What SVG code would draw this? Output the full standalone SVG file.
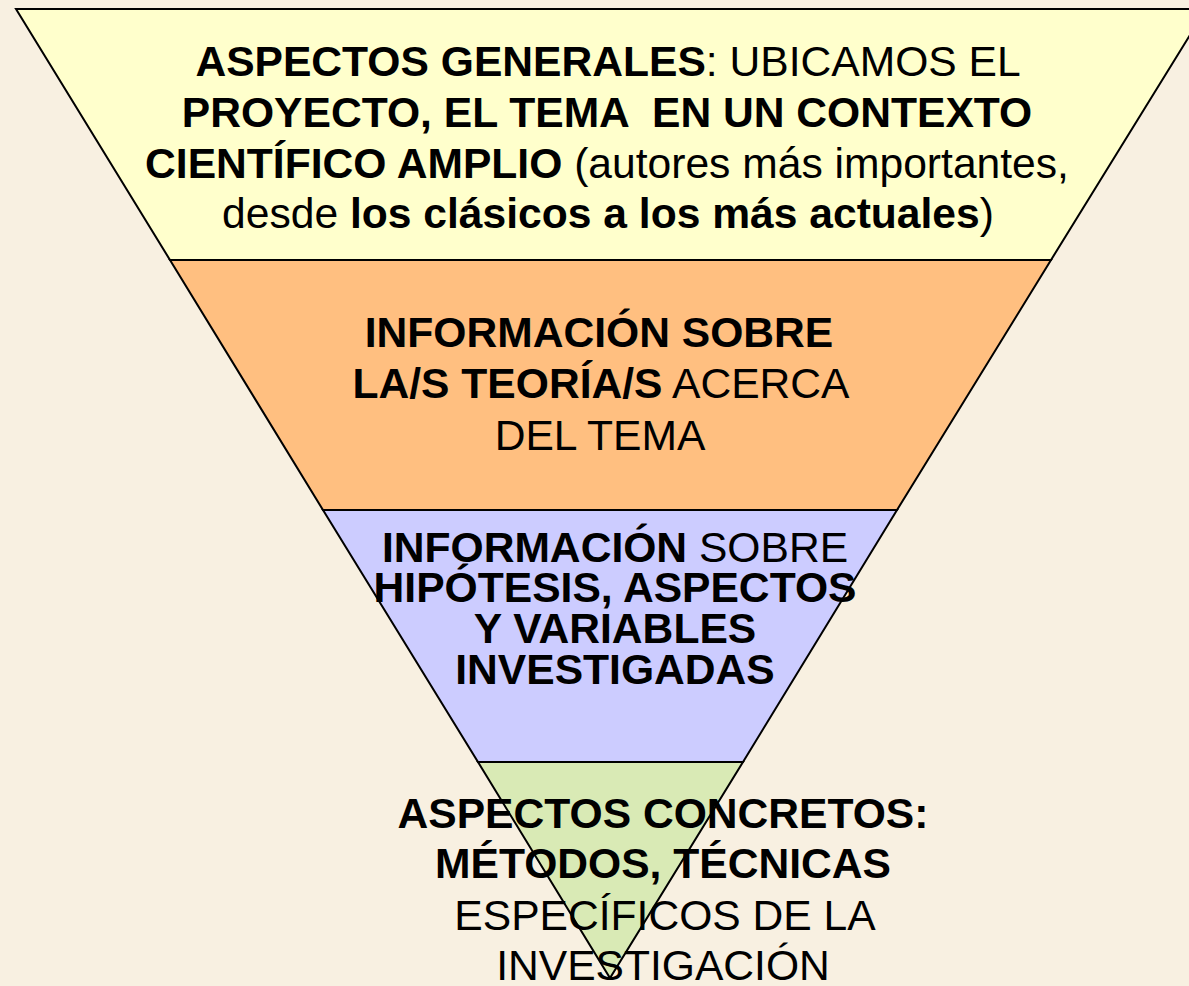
<svg xmlns="http://www.w3.org/2000/svg" width="1189" height="986" viewBox="0 0 1189 986">
  <style>
    .band { stroke: #000; stroke-width: 2; stroke-linejoin: miter; }
    text { font-family: "Liberation Sans", Arial, sans-serif; font-size: 42.6px; fill: #000; text-anchor: middle; white-space: pre; }
    .b { font-weight: bold; }
  </style>
  <rect x="0" y="0" width="1189" height="986" fill="#F8F0E1"/>
  <g id="band-general">
    <polygon class="band" fill="#FFFFCC" points="16,9 1206,9 1051,260 170,260"/>
    <text x="608" y="76"><tspan class="b">ASPECTOS GENERALES</tspan>: UBICAMOS EL</text>
    <text x="607" y="127" class="b">PROYECTO, EL TEMA  EN UN CONTEXTO</text>
    <text x="607" y="178"><tspan class="b">CIENTÍFICO AMPLIO</tspan> (autores más importantes,</text>
    <text x="608" y="228">desde <tspan class="b">los clásicos a los más actuales</tspan>)</text>
  </g>
  <g id="band-teorias">
    <polygon class="band" fill="#FFBF80" points="170,260 1051,260 897,510 323,510"/>
    <text x="599" y="347" class="b">INFORMACIÓN SOBRE</text>
    <text x="601" y="398"><tspan class="b">LA/S TEORÍA/S</tspan> ACERCA</text>
    <text x="600" y="450">DEL TEMA</text>
  </g>
  <g id="band-hipotesis">
    <polygon class="band" fill="#CCCCFF" points="323,510 897,510 743,762 478,762"/>
    <text x="615" y="562"><tspan class="b">INFORMACIÓN</tspan> SOBRE</text>
    <text x="615" y="602" class="b">HIPÓTESIS, ASPECTOS</text>
    <text x="615" y="643" class="b">Y VARIABLES</text>
    <text x="615" y="684" class="b">INVESTIGADAS</text>
  </g>
  <g id="band-concretos">
    <polygon class="band" fill="#D9EAB5" points="478,762 743,762 610,978"/>
    <text x="663" y="828" class="b">ASPECTOS CONCRETOS:</text>
    <text x="663" y="878" class="b">MÉTODOS, TÉCNICAS</text>
    <text x="665" y="930">ESPECÍFICOS DE LA</text>
    <text x="663" y="980">INVESTIGACIÓN</text>
  </g>
  <g id="connectors"></g>
</svg>
